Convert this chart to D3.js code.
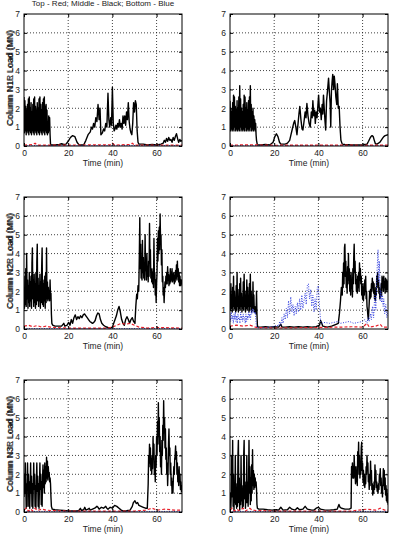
<!DOCTYPE html>
<html>
<head>
<meta charset="utf-8">
<script src="https://cdn.jsdelivr.net/npm/d3@7"></script>
<style>
  body { margin: 0; background: #fff; }
  svg { display: block; font-family: "Liberation Sans", Arial, sans-serif; }
</style>
</head>
<body>
<div id="chart"></div>
<script>
// Page size
const totalW = 394;
const totalH = 534;

// Shared axis setup
const timeDomain = [0, 71.5];
const loadDomain = [0, 7];
const timeTicks = [0, 20, 40, 60];
const loadTicks = [0, 1, 2, 3, 4, 5, 6, 7];
const titleText = "Top - Red; Middle - Black; Bottom - Blue";
const panelLabels = [
  "Column N1L Load (MN)", "Column N1R Load (MN)",
  "Column N2L Load (MN)", "Column N2R Load (MN)",
  "Column N3L Load (MN)", "Column N3R Load (MN)"
];

// bursts are read every 0.2 min
const DT = 0.2;
function burst(t0, vals) {
  return vals.map((v, i) => [+(t0 + i * DT).toFixed(2), v]);
}

// ---- N1L ----
const n1lBurstA = [2.6,0.7,2.4,0.8,2.1,0.6,1.9,0.8,2.2,0.7,2.5,0.6,2.6,0.8,2.0,0.7,2.3,0.6,1.8,0.8,
  2.2,0.7,2.5,0.6,2.6,0.8,2.1,0.7,1.9,0.6,2.3,0.8,2.0,0.7,2.5,0.6,2.6,0.8,2.2,0.7,
  1.9,0.6,2.3,0.8,2.5,0.7,2.6,0.6,2.1,0.8,2.2,0.7,1.9,0.6,1.2,0.7,1.6,0.8,1.5,0.6];
const n1lRest = [[12.0,0.1],[12.2,0.05],[14,0.05],[16,0.08],[17,0.12],[18,0.08],[19,0.1],[20,0.25],[21,0.45],
  [22,0.55],[23,0.5],[24,0.2],[25,0.05],[27,0.05],[28,0.3],[29,0.6],[30,0.75],[30.5,1.0],[31,0.9],
  [31.5,1.2],[32,1.0],[32.5,1.5],[33,1.3],[33.5,2.2],[34,1.4],[34.4,2.0],[34.8,0.6],[35.5,0.7],
  [36,0.9],[36.5,0.8],[37,1.2],[37.5,1.0],[38,2.8],[38.4,1.4],[38.8,1.0],[39.2,1.5],[39.6,1.1],
  [40,3.1],[40.4,1.2],[40.8,0.8],[41.2,0.9],[41.6,1.1],[42,0.9],[42.4,1.2],[42.8,1.0],[43.2,1.4],
  [43.6,1.0],[44,1.2],[44.4,0.9],[44.8,1.6],[45.2,1.2],[45.6,1.6],[46,1.1],[46.4,1.8],[46.8,1.4],
  [47.2,2.3],[47.6,1.3],[48,0.9],[48.4,0.7],[48.8,0.6],[49.2,1.2],[49.6,2.3],[50,1.8],[50.4,2.4],
  [50.8,2.2],[51.2,0.8],[51.6,0.2],[52,0.1],[54,0.1],[56,0.05],[58,0.08],[60,0.05],[62,0.1],
  [63,0.15],[63.5,0.3],[64,0.2],[64.5,0.4],[65,0.25],[65.5,0.45],[66,0.3],[66.5,0.35],[67,0.2],
  [67.5,0.45],[68,0.3],[68.5,0.5],[69,0.65],[69.5,0.4],[70,0.2],[70.5,0.35],[71,0.25],[71.5,0.3]];
const n1lRed = [[0,0.05],[4,0.08],[5,0.15],[6,0.05],[12,0.05],[20,0.05],[39,0.06],[40,0.15],[41,0.05],
  [48,0.08],[49,0.15],[50,0.05],[60,0.05],[71.5,0.05]];
const n1lBlue = [[0,0.02],[20,0.02],[40,0.03],[60,0.02],[71.5,0.02]];

// ---- N1R ----
const n1rBurstA = [2.4,0.8,2.0,0.9,1.8,0.8,2.3,0.9,2.7,0.8,2.6,1.0,2.1,0.8,1.9,0.9,2.4,0.8,2.0,0.9,
  2.6,0.8,3.2,1.0,2.5,0.8,2.0,0.9,1.8,0.8,2.2,0.9,2.7,0.8,2.6,1.0,2.0,0.8,2.3,0.9,
  1.9,0.8,2.4,0.9,2.6,0.8,3.2,1.0,2.2,0.8,1.8,0.9,2.0,0.8,1.6,0.9,1.4,0.8,1.2,0.6,0.3];
const n1rRest = [[12.4,0.05],[14,0.05],[16,0.08],[18,0.05],[19.5,0.2],[20.3,0.5],[21,0.65],[21.7,0.5],
  [22.4,0.2],[23,0.1],[25,0.1],[26,0.15],[27,0.3],[27.6,0.6],[28.2,0.9],[28.8,1.2],[29.3,1.35],
  [29.8,1.0],[30.3,0.6],[30.8,1.2],[31.2,1.7],[31.6,2.1],[32.1,1.4],[32.6,0.9],[33,0.85],[33.5,1.3],
  [34,1.8],[34.4,1.5],[34.8,2.25],[35.3,1.6],[35.8,1.2],[36.3,1.0],[36.8,1.8],[37.2,1.5],[37.5,2.4],
  [37.9,1.6],[38.3,1.9],[38.6,1.2],[39,1.8],[39.4,1.5],[39.8,2.2],[40.1,2.7],[40.5,1.8],[40.9,2.0],
  [41.3,1.4],[41.7,2.2],[42,1.7],[42.3,2.7],[42.7,1.9],[43,1.3],[43.3,0.85],[43.7,2.4],[44.1,2.9],
  [44.6,3.6],[45,2.8],[45.3,2.3],[45.6,1.0],[45.9,2.9],[46.2,3.4],[46.5,3.8],[46.9,3.0],[47.2,3.7],
  [47.5,3.3],[47.9,2.6],[48.3,2.2],[48.6,3.3],[49,2.0],[49.4,2.1],[49.8,1.0],[50.2,0.3],[50.8,0.1],
  [52,0.08],[55,0.05],[58,0.05],[60,0.05],[61,0.08],[62,0.1],[62.7,0.25],[63.3,0.4],[63.8,0.5],
  [64.3,0.55],[64.8,0.5],[65.3,0.3],[65.8,0.12],[66.5,0.1],[67.2,0.15],[67.8,0.2],[68.4,0.3],
  [69,0.4],[69.6,0.5],[70.2,0.55],[71.5,0.6]];
const n1rRed = [[0,0.05],[10,0.06],[20,0.04],[40,0.05],[60,0.04],[71.5,0.05]];
const n1rBlue = [[0,0.02],[30,0.02],[71.5,0.02]];

// ---- N2L ----
const n2lBurstA = [2.0,1.1,2.8,1.3,3.2,1.2,4.0,1.6,2.6,1.1,2.3,1.4,3.0,1.2,2.5,1.5,2.8,1.1,3.5,4.3,
  1.6,2.6,1.2,2.9,1.4,2.4,1.1,3.0,1.3,3.6,4.5,1.5,2.7,1.2,2.3,1.5,2.9,1.1,2.5,1.4,
  3.3,4.3,1.3,2.6,1.2,2.4,1.5,2.8,1.1,3.0,1.4,4.3,1.6,2.5,1.5,2.2,1.6,2.0,1.5,2.6,
  1.7,1.9,0.8,0.3];
const n2lMidway = [[13,0.2],[14,0.15],[16,0.15],[17,0.15],[18,0.3],[18.5,0.15],[19.5,0.2],[20.2,0.35],
  [20.8,0.2],[21.4,0.5],[22,0.3],[22.6,0.6],[23.2,0.75],[23.8,0.5],[24.4,0.65],[25,0.55],[25.6,0.7],
  [26.2,0.6],[26.8,0.75],[27.4,0.8],[28,0.7],[28.6,0.6],[29.2,0.5],[29.8,0.4],[30.4,0.35],[31,0.3],
  [31.6,0.35],[32.2,0.45],[32.8,0.7],[33.4,0.85],[34,0.8],[34.6,0.5],[35.2,0.3],[36,0.2],[37,0.12],
  [38,0.08],[39,0.05],[40,0.1],[40.6,0.3],[41.2,0.5],[41.8,0.7],[42.4,1.0],[43,1.2],[43.6,0.9],
  [44.2,0.5],[44.8,0.3],[45.4,0.2],[46,0.5],[46.6,0.65],[47.2,0.5],[47.8,0.3],[48.4,0.5],[49,0.6],
  [49.6,0.4],[50.2,0.3],[50.6,1.2],[51,1.85],[51.3,1.6],[51.6,2.3],[51.9,2.0]];
const n2lBurstB = [2.5,4.0,5.9,3.2,4.5,2.7,3.6,2.6,4.7,3.0,3.8,2.7,3.4,2.6,5.0,3.1,3.6,2.6,4.0,2.8,
  3.3,2.5,3.6,2.8,5.6,3.5,4.2,2.7,3.2,2.5,3.0,2.4,3.2,2.2,4.8,2.8,3.0,1.8,2.6,1.4,
  2.4,3.0,4.8,3.6,5.2,4.0,5.4,4.2,6.1,4.6,5.0,3.4,4.2,2.5,2.8,1.8,2.2,1.4,2.0,2.5,
  2.2,2.8,2.4,3.0,2.4,3.3,2.6,2.9,2.3,2.8,2.4,3.2,2.5,3.0,2.6,3.2,2.5,2.9,2.6,3.0,
  2.4,2.8,2.5,3.1,2.7,3.4,2.6,3.6,2.8,3.2,2.5,3.0,2.3,2.8,2.3,2.6,2.4,2.6,2.3,2.5];
const n2lRed = [[0,0.15],[2,0.2],[4,0.12],[6,0.18],[8,0.1],[10,0.15],[12,0.1],[14,0.08],[20,0.05],
  [30,0.05],[38,0.05],[40,0.1],[42,0.2],[44,0.3],[46,0.25],[48,0.3],[50,0.2],[52,0.1],[56,0.05],
  [60,0.08],[71.5,0.05]];
const n2lBlue = [[0,0.02],[30,0.02],[71.5,0.02]];

// ---- N2R ----
const n2rBurstA = [2.0,1.0,2.4,1.1,1.8,0.9,2.2,1.2,2.8,1.0,2.0,1.1,1.6,0.9,2.3,1.0,3.0,1.2,2.1,0.9,
  1.7,1.1,2.4,1.0,2.7,1.2,1.9,0.9,1.6,1.1,2.5,1.0,2.9,1.2,2.0,0.9,1.8,1.1,2.6,1.0,
  2.2,1.2,1.7,0.9,2.4,1.0,2.9,1.2,2.0,0.9,1.6,1.0,2.5,1.1,1.8,0.9,1.2,0.9,1.0,0.8,
  2.0,0.8,0.2,0.1];
const n2rMidway = [[14,0.1],[16,0.12],[18,0.1],[20,0.12],[22,0.1],[23,0.25],[23.5,0.1],[25,0.1],
  [27,0.12],[29,0.1],[31,0.12],[33,0.1],[35,0.12],[37,0.1],[39,0.12],[40.5,0.2],[41,0.45],
  [41.5,0.3],[42,0.15],[44,0.1],[46,0.15],[48,0.25],[49,0.3],[49.5,0.8],[50,1.5],[50.4,2.2],
  [50.8,1.8]];
const n2rBurstB = [3.0,2.2,3.5,2.4,4.3,4.5,2.8,3.6,2.2,3.0,1.9,3.3,2.4,4.0,2.6,3.2,2.0,2.8,1.8,3.0,
  2.2,2.6,1.7,3.2,2.4,3.8,4.5,3.0,3.6,2.4,2.9,2.0,2.6,1.9,2.8,2.2,3.0,2.0,3.5,2.6,
  3.2,2.4,2.8,1.8,2.4,1.6,2.2,1.5,2.4,1.8,2.6,2.0,2.8,1.6,2.0,1.2,1.0,0.7,0.5,0.9,
  1.4,2.0,1.6,2.1,1.7,2.4,2.0,2.7,2.2,2.5,1.9,2.4,1.6,2.0,1.5,2.2,1.8,2.8,2.2,3.0,
  2.4,2.6,1.9,2.2,1.6,2.0,1.7,2.4,1.8,2.8,2.2,2.7,2.0,2.8,2.2,2.5,1.9,2.7,2.1,2.6,
  2.0,2.5,2.1,2.6,2.3];
const n2rRed = [[0,0.15],[3,0.2],[6,0.15],[9,0.2],[12,0.08],[20,0.05],[40,0.08],[50,0.1],[55,0.12],
  [60,0.1],[62,0.3],[63,0.1],[66,0.15],[68,0.25],[69,0.1],[71.5,0.1]];
// blue read every 0.3 min at the start, every 0.5 min in the 22-41 rise
const n2rBlueA = [0.8,0.4,0.9,0.5,0.7,0.3,0.8,0.5,0.9,0.4,0.7,0.3,0.8,0.5,0.6,0.3,0.9,0.5,0.7,0.4,
  0.8,0.5,0.6,0.3,0.8,0.4,0.7,0.5,0.9,0.6,0.8,0.5,1.0,0.8,1.1,0.9,1.0,0.8,0.9,0.5,0.1];
const n2rBlueB = [0.4,0.2,0.6,0.3,0.8,0.5,1.1,0.6,1.5,0.8,1.7,0.9,1.3,0.7,1.2,0.8,1.4,0.9,1.6,1.0,
  1.8,1.1,1.5,1.9,1.3,2.3,2.4,1.6,2.1,1.2,1.8,0.9,1.6,1.0,2.2,2.3,1.2,0.4];
const n2rBlueRest = [[13,0.05],[16,0.08],[19,0.1],[20,0.15],[21,0.2],[22,0.15]];
const n2rBlueTail = [[41.5,0.3],[43,0.35],[45,0.3],[47,0.35],[49,0.4],[50,0.3],[52,0.35],[54,0.4],
  [56,0.3],[58,0.35],[60,0.4],[61,0.5],[62,0.3],[62.5,0.6],[63,0.4],[63.5,0.8],[64,0.5],[64.5,1.2],
  [65,0.6],[65.5,1.8],[66,1.0],[66.5,3.0],[67,4.2],[67.3,2.5],[67.6,3.6],[68,1.5],[68.3,2.0],
  [68.6,1.4],[69,1.8],[69.3,1.2],[69.6,1.6],[70,0.8],[70.5,1.3],[71,0.6],[71.5,1.0]];

// ---- N3L ----
const n3lBurstA = [0.8,2.0,1.0,2.6,1.4,0.2,1.5,0.3,2.6,1.2,2.0,0.3,1.6,0.2,1.4,2.6,1.0,1.9,0.3,1.5,
  0.2,1.3,2.6,1.2,2.0,0.3,1.4,0.2,1.6,2.6,1.1,1.9,0.3,1.5,0.2,1.4,2.6,1.2,2.0,0.4,
  1.6,0.3,1.8,2.5,1.3,2.2,1.0,2.6,1.5,2.4,1.6,2.9,1.8,2.7,1.7,2.4,1.9,2.1,1.6,1.8,
  1.5,0.8,0.3];
const n3lMidway = [[12.8,0.15],[14,0.12],[16,0.1],[18,0.08],[20,0.06],[22,0.05],[24,0.05],[25,0.1],
  [25.5,0.2],[26,0.08],[27,0.12],[27.5,0.25],[28,0.1],[29,0.15],[29.5,0.2],[30,0.1],[31,0.15],
  [32,0.2],[33,0.3],[33.5,0.25],[34,0.15],[35,0.25],[36,0.2],[37,0.3],[37.5,0.2],[38,0.15],
  [39,0.25],[40,0.2],[41,0.35],[42,0.3],[43,0.2],[44,0.1],[45,0.05],[46,0.05],[47,0.08],[48,0.1],
  [49,0.3],[49.5,0.5],[50.2,0.6],[50.8,0.45],[51.4,0.5],[52,0.35],[53,0.3],[54,0.25],[55,0.2],
  [55.8,0.2],[56.2,1.5]];
const n3lBurstB = [3.0,2.4,3.6,2.6,3.4,2.2,2.8,2.0,3.0,2.3,4.0,2.8,3.6,2.0,2.6,1.6,3.0,2.4,4.0,3.0,
  4.8,3.6,5.8,4.0,5.0,3.2,4.0,2.4,3.0,2.0,3.8,3.0,4.6,3.8,5.9,4.2,5.0,3.4,4.4,2.8,
  3.4,2.0,2.6,1.4,2.2,3.6,4.4,3.0,3.4,2.0,2.6,1.4,1.8,1.0,1.6,1.0,1.8,2.4,2.0,2.8,
  3.0,3.5,2.8,3.2,2.0,2.6,1.6,2.2,1.4,2.4,1.6,2.0,1.2,1.6,1.1,1.4,1.0,1.2];
const n3lRed = [[0,0.1],[1,0.2],[2,0.05],[3,0.15],[4,0.05],[5,0.2],[6,0.08],[8,0.15],[10,0.1],
  [12,0.08],[20,0.05],[40,0.05],[50,0.05],[55,0.1],[58,0.2],[60,0.1],[64,0.15],[68,0.1],[71.5,0.1]];
const n3lBlue = [[0,0.03],[30,0.03],[71.5,0.03]];

// ---- N3R ----
const n3rBurstA = [0.6,1.0,0.2,1.1,3.0,0.8,3.8,0.3,2.0,0.1,1.2,0.5,3.0,0.4,1.5,0.2,1.0,0.3,3.0,3.8,
  0.5,1.8,0.1,1.2,0.4,3.0,0.6,1.4,0.2,1.1,0.3,3.0,3.8,0.7,1.6,0.2,1.2,0.5,3.0,0.5,
  1.6,0.3,1.4,3.8,1.0,2.4,0.4,1.8,0.6,2.5,1.0,3.3,1.4,2.2,1.2,2.0,1.3,1.8,1.4,1.6,
  1.2,0.4,0.2];
const n3rMidway = [[13,0.15],[15,0.15],[17,0.12],[19,0.1],[21,0.12],[22,0.1],[23,0.25],[24,0.1],
  [26,0.12],[27,0.25],[28,0.15],[29.5,0.1],[30.5,0.22],[31.5,0.12],[33,0.15],[34,0.3],[35,0.15],
  [37,0.1],[38,0.1],[39,0.2],[40,0.25],[41,0.15],[43,0.1],[45,0.1],[47,0.12],[48.5,0.15],
  [49.3,0.4],[49.8,0.25],[50.5,0.2],[52,0.15],[54,0.15],[54.8,0.2],[55.0,2.4]];
const n3rBurstB = [2.0,2.6,1.8,2.4,1.8,3.0,2.2,2.0,1.5,2.4,1.6,2.2,1.4,3.2,2.6,3.7,2.0,3.0,1.8,2.6,
  2.0,3.4,3.7,2.2,2.6,1.6,2.2,1.4,2.0,1.3,1.8,1.5,2.4,2.0,3.0,2.2,2.6,1.6,1.8,1.2,
  2.0,1.4,2.7,1.8,2.2,1.2,1.5,0.9,1.4,1.0,1.6,1.2,2.5,1.6,2.2,1.3,1.6,1.1,1.4,1.0,
  1.5,1.2,2.0,1.6,2.3,1.4,1.8,1.0,1.4,0.8,1.6,2.3,1.4,2.2,1.2,1.8,0.9,1.4,0.6,1.2,
  0.5,0.9,0.4,0.6];
const n3rRed = [[0,0.1],[1,0.2],[2,0.05],[3,0.15],[4,0.08],[6,0.2],[7,0.05],[9,0.2],[10,0.1],
  [12,0.08],[20,0.05],[40,0.05],[55,0.05],[58,0.1],[62,0.15],[66,0.1],[68,0.2],[70,0.1],[71.5,0.1]];
const n3rBlue = [[0,0.03],[30,0.03],[71.5,0.03]];

// Put the pieces together per panel
const series = [
  { mid: burst(0, n1lBurstA).concat(n1lRest), top: n1lRed, bot: n1lBlue },
  { mid: burst(0, n1rBurstA).concat(n1rRest), top: n1rRed, bot: n1rBlue },
  { mid: burst(0, n2lBurstA).concat(n2lMidway, burst(52, n2lBurstB)), top: n2lRed, bot: n2lBlue },
  { mid: burst(0, n2rBurstA).concat(n2rMidway, burst(51, n2rBurstB)), top: n2rRed,
    bot: n2rBlueA.map((v, i) => [+(i * 0.3).toFixed(2), v])
      .concat(n2rBlueRest, n2rBlueB.map((v, i) => [22.5 + i * 0.5, v]), n2rBlueTail) },
  { mid: burst(0, n3lBurstA).concat(n3lMidway, burst(56.4, n3lBurstB)), top: n3lRed, bot: n3lBlue },
  { mid: burst(0, n3rBurstA).concat(n3rMidway, burst(55.2, n3rBurstB)), top: n3rRed, bot: n3rBlue }
];

// Grid of panel positions (bottom row nudged up so its x label fits)
const colLeft = [24, 230];
const rowTop = [14, 197, 380];
const plotW = 158;
const plotH = 132;

const svg = d3.select("#chart")
  .append("svg")
    .attr("width", totalW)
    .attr("height", totalH);

// Title above the first panel
svg.append("text")
  .attr("x", colLeft[0] + plotW / 2)
  .attr("y", 6)
  .attr("text-anchor", "middle")
  .style("font-size", "8px")
  .style("fill", "#222")
  .text(titleText);

const x = d3.scaleLinear().domain(timeDomain).range([0, plotW]);
const y = d3.scaleLinear().domain(loadDomain).range([plotH, 0]);

const line = d3.line()
  .x(d => x(d[0]))
  .y(d => y(d[1]));

series.forEach((s, i) => {
  const left = colLeft[i % 2];
  const top = rowTop[Math.floor(i / 2)];
  const g = svg.append("g").attr("transform", `translate(${left},${top})`);

  // clip lines to the box
  g.append("clipPath").attr("id", `clip${i}`)
    .append("rect").attr("width", plotW).attr("height", plotH);

  // dotted grid
  g.selectAll(".gx")
    .data(timeTicks.slice(1))
    .join("line")
    .attr("x1", d => x(d)).attr("x2", d => x(d))
    .attr("y1", 0).attr("y2", plotH)
    .attr("stroke", "#111").attr("stroke-width", 0.8)
    .attr("stroke-dasharray", "1,2");
  g.selectAll(".gy")
    .data(loadTicks.slice(1, -1))
    .join("line")
    .attr("x1", 0).attr("x2", plotW)
    .attr("y1", d => y(d)).attr("y2", d => y(d))
    .attr("stroke", "#111").attr("stroke-width", 0.8)
    .attr("stroke-dasharray", "1,2");

  const lines = g.append("g").attr("clip-path", `url(#clip${i})`);
  lines.append("path")
    .datum(s.mid)
    .attr("d", line)
    .attr("fill", "none")
    .attr("stroke", "#000")
    .attr("stroke-width", 1.4)
    .attr("stroke-linejoin", "round");
  lines.append("path")
    .datum(s.bot)
    .attr("d", line)
    .attr("fill", "none")
    .attr("stroke", "#3340e0")
    .attr("stroke-width", 1)
    .attr("stroke-dasharray", "1,1.5");
  lines.append("path")
    .datum(s.top)
    .attr("d", line)
    .attr("fill", "none")
    .attr("stroke", "#e8202a")
    .attr("stroke-width", 1.2)
    .attr("stroke-dasharray", "3,2");

  // axes, ticks pointing inward
  const ax = g.append("g")
    .attr("transform", `translate(0,${plotH})`)
    .call(d3.axisBottom(x).tickValues(timeTicks).tickSize(-3).tickPadding(4).tickFormat(d3.format("d")));
  const ay = g.append("g")
    .call(d3.axisLeft(y).tickValues(loadTicks).tickSize(-3).tickPadding(4).tickFormat(d3.format("d")));
  g.append("g")
    .call(d3.axisTop(x).tickValues(timeTicks).tickSize(-3).tickFormat(""));
  g.append("g")
    .attr("transform", `translate(${plotW},0)`)
    .call(d3.axisRight(y).tickValues(loadTicks).tickSize(-3).tickFormat(""));

  g.selectAll(".domain").remove();
  g.selectAll(".tick line").attr("stroke", "#000");
  [ax, ay].forEach(a => a.selectAll("text")
    .style("font-size", "8.5px")
    .style("fill", "#222")
    .style("font-family", "'Liberation Sans', Arial, sans-serif"));

  // box
  g.append("rect")
    .attr("width", plotW)
    .attr("height", plotH)
    .attr("fill", "none")
    .attr("stroke", "#000")
    .attr("stroke-width", 1);

  // axis titles
  g.append("text")
    .attr("x", plotW / 2)
    .attr("y", plotH + 19.5)
    .attr("text-anchor", "middle")
    .style("font-size", "8.5px")
    .style("fill", "#222")
    .text("Time (min)");
  g.append("text")
    .attr("transform", `translate(${-left + 12.5},${plotH / 2 - 2}) rotate(-90)`)
    .attr("text-anchor", "middle")
    .style("font-size", "9px")
    .style("fill", "#222")
    .text(panelLabels[i]);
});
</script>
</body>
</html>
